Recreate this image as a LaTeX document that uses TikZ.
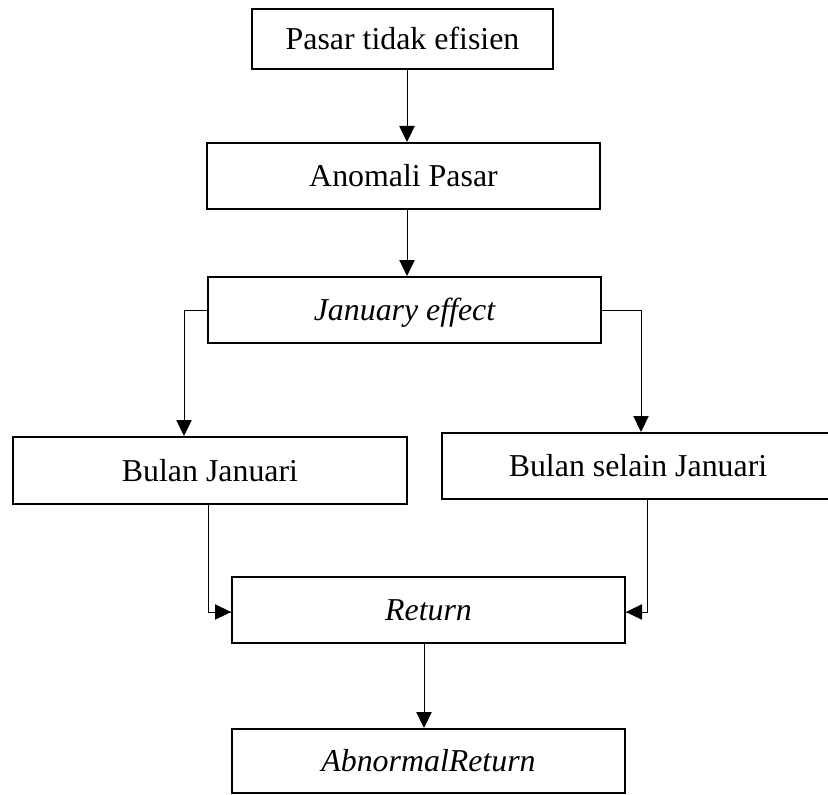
\documentclass[tikz,border=0pt]{standalone}
\usepackage{fontspec}
\setmainfont{Liberation Serif}
\usepackage{tikz}
\usetikzlibrary{arrows.meta}

\begin{document}
\begin{tikzpicture}[x=0.75pt,y=0.75pt,yscale=-1,xscale=1,
    boxnode/.style={draw, line width=1.5pt, rectangle, inner sep=0pt,
        font=\fontsize{23.9}{28}\selectfont, text height=16.7pt, text depth=0.9pt},
    arr/.style={line width=0.75pt, -{Triangle[length=12pt,width=11.5pt]}},
    link/.style={line width=0.75pt}]
        \clip (0,0) rectangle (828,795);
        
        % Text Node
        \node [boxnode, minimum width=225.75pt, minimum height=45pt] (pasar) at (402.5,39) {Pasar tidak efisien};
        % Text Node
        \node [boxnode, minimum width=294.75pt, minimum height=49.5pt] (anomali) at (403.5,176) {Anomali Pasar};
        % Text Node
        \node [boxnode, minimum width=294.75pt, minimum height=49.5pt] (effect) at (404.5,310) {\itshape January effect};
        % Text Node
        \node [boxnode, minimum width=295.5pt, minimum height=50.25pt] (januari) at (210,470.5) {Bulan Januari};
        % Text Node
        \node [boxnode, minimum width=294pt, minimum height=49.5pt] (selain) at (638,466) {Bulan selain Januari};
        % Text Node
        \node [boxnode, minimum width=294.75pt, minimum height=49.5pt] (return) at (428.5,610) {\itshape Return};
        % Text Node
        \node [boxnode, minimum width=294.75pt, minimum height=48pt] (abnormal) at (428.5,761) {\itshape AbnormalReturn};
        
        %Straight Lines
        \draw [arr] (pasar.south -| 407,0) -- (anomali.north -| 407,0);
        \draw [arr] (anomali.south -| 407,0) -- (effect.north -| 407,0);
        %Elbow Lines
        \draw [arr] (effect.west) -| (januari.north -| 184,0);
        \draw [arr] (effect.east) -| (selain.north -| 641,0);
        \draw [link] (januari.south -| 208,0) |- (return.west |- 0,612);
        \draw [arr] (208,612) -- (return.west |- 0,612);
        \draw [link] (selain.south -| 647,0) |- (return.east |- 0,612);
        \draw [arr] (647,612) -- (return.east |- 0,612);
        \draw [arr] (return.south -| 424,0) -- (abnormal.north -| 424,0);
        
\end{tikzpicture}
\end{document}
